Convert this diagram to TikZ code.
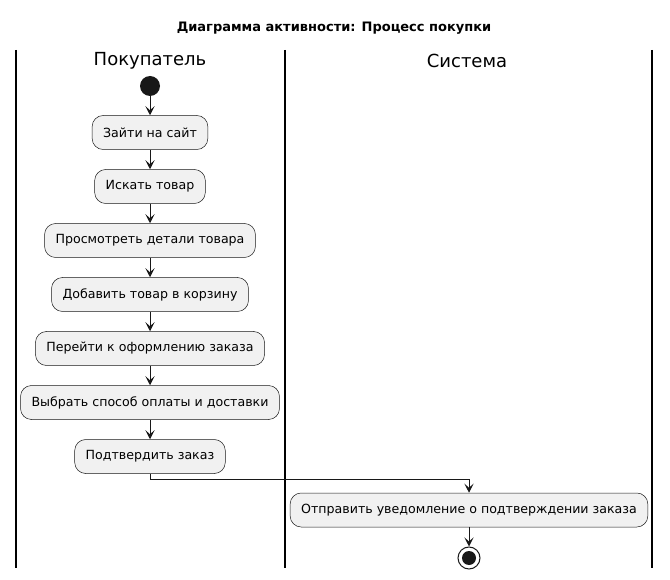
\documentclass[tikz,border=0pt]{standalone}
\usepackage{fontspec}
\setmainfont{DejaVu Sans}
\usepackage{xcolor}
\usepackage{tikz}
\usetikzlibrary{arrows.meta,positioning}

\definecolor{actfill}{HTML}{F1F1F1}
\definecolor{actline}{HTML}{181818}

\begin{document}
\begin{tikzpicture}[x=1pt, y=-1pt, node distance=54pt, on grid,
    action/.style={draw=actline, line width=0.5pt, fill=actfill, rounded corners=11pt,
      minimum height=34pt, inner xsep=11pt, font=\fontsize{12.6}{14}\selectfont},
    lane/.style={line width=1.4pt},
    header/.style={font=\fontsize{18}{20}\selectfont},
    flow/.style={-{Stealth[length=9pt, width=9pt, inset=4pt]}, line width=1pt, actline}]
  \useasboundingbox (0,0) rectangle (670,580);

  % title and swimlanes
  \node[font=\bfseries\fontsize{13}{15}\selectfont] (title) at (334,28) {Диаграмма активности: Процесс покупки};
  \draw[lane] (16,50) -- (16,568);
  \draw[lane] (285,50) -- (285,568);
  \draw[lane] (652,50) -- (652,568);
  \node[header] (buyer) at (150,61) {Покупатель};
  \node[header] (system) at (467,61) {Система};

  % buyer lane
  \node[circle, fill=actline, minimum size=20pt, inner sep=0pt] (start) at (150,86) {};
  \node[action] (visit) at (150,132.5) {Зайти на сайт};
  \node[action, below=of visit] (search) {Искать товар};
  \node[action, below=of search] (details) {Просмотреть детали товара};
  \node[action, below=of details] (cart) {Добавить товар в корзину};
  \node[action, below=of cart] (checkout) {Перейти к оформлению заказа};
  \node[action, below=of checkout] (payment) {Выбрать способ оплаты и доставки};
  \node[action, below=of payment] (confirm) {Подтвердить заказ};

  % system lane
  \node[action] (notify) at (469,510) {Отправить уведомление о подтверждении заказа};
  \node[circle, draw=actline, line width=1pt, fill=white, minimum size=22pt, inner sep=0pt] (stop) at (469,558) {};
  \node[circle, fill=actline, minimum size=14pt, inner sep=0pt] at (stop) {};

  \path[flow]
    (start) edge (visit)
    (visit) edge (search)
    (search) edge (details)
    (details) edge (cart)
    (cart) edge (checkout)
    (checkout) edge (payment)
    (payment) edge (confirm)
    (notify) edge (stop);
  \draw[flow] (confirm.south) |- (469,479) -- (notify.north);
\end{tikzpicture}
\end{document}
